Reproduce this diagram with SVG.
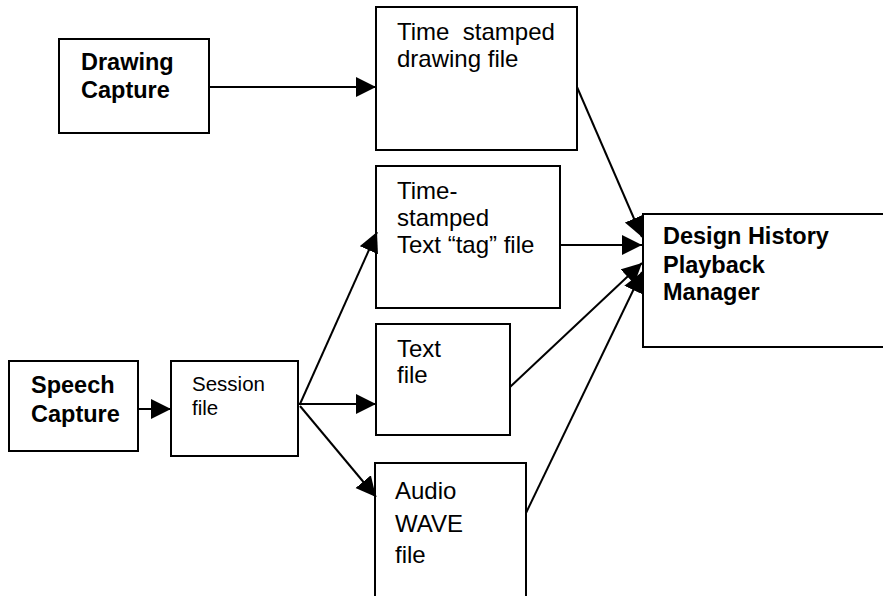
<svg xmlns="http://www.w3.org/2000/svg" width="883" height="596" viewBox="0 0 883 596">
  <style>
    .box { fill: #ffffff; stroke: #000000; stroke-width: 2; }
    .edge { fill: none; stroke: #000000; stroke-width: 2; }
    .t { font-family: "Liberation Sans", Arial, sans-serif; font-size: 24px; fill: #000000; }
    .b { font-weight: bold; font-size: 23.5px; }
    .s { font-size: 20.5px; }
  </style>
  <defs>
    <marker id="arrow" markerUnits="userSpaceOnUse" markerWidth="22" markerHeight="22" refX="20" refY="10" orient="auto">
      <path d="M0,0 L20,10 L0,20 Z" fill="#000000"/>
    </marker>
  </defs>
  <rect width="883" height="596" fill="#ffffff"/>

  <g id="drawing-capture">
    <rect class="box" x="59" y="39" width="150" height="94"/>
    <text class="t b" x="81" y="70">Drawing</text>
    <text class="t b" x="81" y="98">Capture</text>
  </g>

  <g id="drawing-file">
    <rect class="box" x="376" y="7" width="201" height="143"/>
    <text class="t" x="397" y="40" xml:space="preserve">Time  stamped</text>
    <text class="t" x="397" y="67">drawing file</text>
  </g>

  <g id="tag-file">
    <rect class="box" x="376" y="166" width="184" height="142"/>
    <text class="t" x="397" y="199">Time-</text>
    <text class="t" x="397" y="226">stamped</text>
    <text class="t" x="397" y="253">Text “tag” file</text>
  </g>

  <g id="text-file">
    <rect class="box" x="376" y="324" width="134" height="111"/>
    <text class="t" x="397" y="357">Text</text>
    <text class="t" x="397" y="383">file</text>
  </g>

  <g id="audio-file">
    <rect class="box" x="375" y="463" width="151" height="150"/>
    <text class="t" x="395" y="499">Audio</text>
    <text class="t" x="395" y="532">WAVE</text>
    <text class="t" x="395" y="563">file</text>
  </g>

  <g id="speech-capture">
    <rect class="box" x="9" y="361" width="129" height="90"/>
    <text class="t b" x="31" y="393">Speech</text>
    <text class="t b" x="31" y="422">Capture</text>
  </g>

  <g id="session-file">
    <rect class="box" x="171" y="361" width="127" height="95"/>
    <text class="t s" x="192" y="391">Session</text>
    <text class="t s" x="192" y="415">file</text>
  </g>

  <g id="playback-manager">
    <rect class="box" x="643" y="214" width="260" height="133"/>
    <text class="t b" x="663" y="244">Design History</text>
    <text class="t b" x="663" y="273">Playback</text>
    <text class="t b" x="663" y="300">Manager</text>
  </g>

  <g id="connectors">
    <line class="edge" x1="209" y1="87" x2="376" y2="87" marker-end="url(#arrow)"/>
    <line class="edge" x1="138" y1="409" x2="171" y2="409" marker-end="url(#arrow)"/>
    <line class="edge" x1="300" y1="404" x2="377" y2="232" marker-end="url(#arrow)"/>
    <line class="edge" x1="298" y1="404" x2="376" y2="404" marker-end="url(#arrow)"/>
    <line class="edge" x1="300" y1="406" x2="376" y2="497" marker-end="url(#arrow)"/>
    <line class="edge" x1="577" y1="87" x2="642" y2="237" marker-end="url(#arrow)"/>
    <line class="edge" x1="560" y1="245" x2="642" y2="245" marker-end="url(#arrow)"/>
    <line class="edge" x1="510" y1="387" x2="642" y2="263" marker-end="url(#arrow)"/>
    <line class="edge" x1="526" y1="513" x2="642" y2="272" marker-end="url(#arrow)"/>
  </g>
</svg>
